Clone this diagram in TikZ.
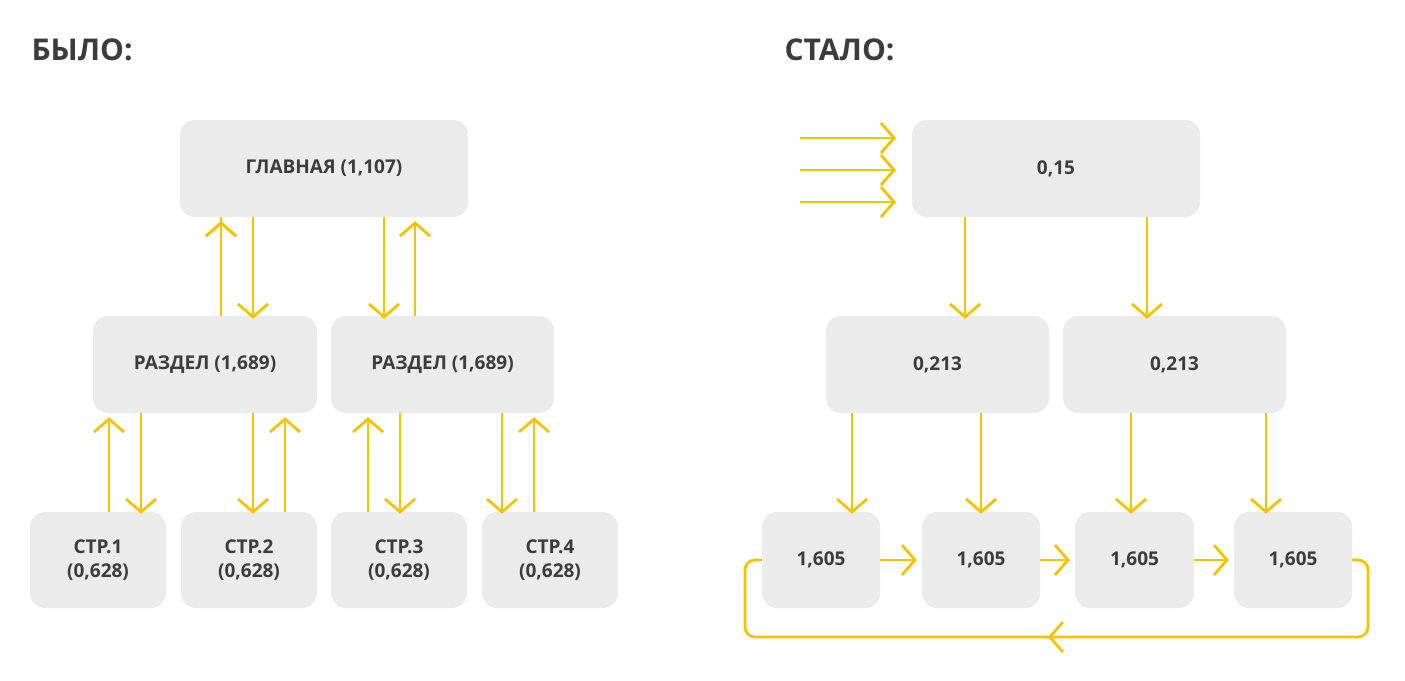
\documentclass[tikz,border=0pt]{standalone}
\usepackage{fontspec}
\setmainfont{Open Sans}
\usetikzlibrary{arrows.meta}
\definecolor{boxc}{HTML}{EBEBEB}
\definecolor{txtc}{HTML}{3C3C3C}
\definecolor{yel}{HTML}{F5C400}
\begin{document}
\begin{tikzpicture}[x=1pt,y=-1pt,
  bx/.style={fill=boxc,rounded corners=15pt,text=txtc,font=\fontsize{19}{24}\selectfont\bfseries,align=center,inner sep=0pt},
  arr/.style={draw=yel,line width=2.8pt,-{Straight Barb[length=13pt,width=30pt,line width=2.8pt]}},
  ln/.style={draw=yel,line width=2.8pt},
  ttl/.style={text=txtc,font=\fontsize{30}{36}\selectfont\bfseries,anchor=west}]
\useasboundingbox (0,0) rectangle (1405,680);
\node[ttl] (t1) at (28,50) {БЫЛО:};
\node[ttl] (t2) at (781,50) {СТАЛО:};
\newcommand\bxat[6]{\node[bx,minimum width=#4-#2,minimum height=#5-#3] (#1) at ({(#2+#4)/2},{(#3+#5)/2}) {#6};}
\bxat{g}{180}{120}{468}{217}{ГЛАВНАЯ (1,107)}
\bxat{r1}{93}{316}{317}{413}{РАЗДЕЛ (1,689)}
\bxat{r2}{331}{316}{554}{413}{РАЗДЕЛ (1,689)}
\bxat{s1}{30}{512}{166}{608}{СТР.1\\(0,628)}
\bxat{s2}{181}{512}{317}{608}{СТР.2\\(0,628)}
\bxat{s3}{331}{512}{467}{608}{СТР.3\\(0,628)}
\bxat{s4}{482}{512}{618}{608}{СТР.4\\(0,628)}
\bxat{h}{912}{120}{1200}{217}{0,15}
\bxat{m1}{826}{316}{1049}{413}{0,213}
\bxat{m2}{1063}{316}{1286}{413}{0,213}
\bxat{p1}{762}{512}{880}{608}{1,605}
\bxat{p2}{922}{512}{1040}{608}{1,605}
\bxat{p3}{1075}{512}{1194}{608}{1,605}
\bxat{p4}{1234}{512}{1352}{608}{1,605}
% left arrows
\draw[arr] (r1.north -| 221,0) -- (g.south -| 221,0) ++(0,4);
\draw[arr] (g.south -| 253,0) -- ([yshift=-3pt]r1.north -| 253,0);
\draw[arr] (g.south -| 384,0) -- ([yshift=-3pt]r2.north -| 384,0);
\draw[arr] (r2.north -| 415,0) -- ([yshift=-4pt]g.south -| 415,0);
\draw[arr] (r1.north -| 221,0) -- ([yshift=-4pt]g.south -| 221,0);
\draw[arr] (s1.north -| 109,0) -- ([yshift=-4pt]r1.south -| 109,0);
\draw[arr] (r1.south -| 141,0) -- ([yshift=-2pt]s1.north -| 141,0);
\draw[arr] (r1.south -| 253,0) -- ([yshift=-2pt]s2.north -| 253,0);
\draw[arr] (s2.north -| 285,0) -- ([yshift=-4pt]r1.south -| 285,0);
\draw[arr] (s3.north -| 368,0) -- ([yshift=-4pt]r2.south -| 368,0);
\draw[arr] (r2.south -| 400,0) -- ([yshift=-2pt]s3.north -| 400,0);
\draw[arr] (r2.south -| 502,0) -- ([yshift=-2pt]s4.north -| 502,0);
\draw[arr] (s4.north -| 534,0) -- ([yshift=-4pt]r2.south -| 534,0);
% right
\coordinate (i1) at (800,138); \coordinate (i2) at (800,170); \coordinate (i3) at (800,202);
\draw[arr] (i1) -- ([xshift=-16pt]h.west |- i1);
\draw[arr] (i2) -- ([xshift=-16pt]h.west |- i2);
\draw[arr] (i3) -- ([xshift=-16pt]h.west |- i3);
\draw[arr] (h.south -| 965,0) -- ([yshift=-3pt]m1.north -| 965,0);
\draw[arr] (h.south -| 1147,0) -- ([yshift=-3pt]m2.north -| 1147,0);
\draw[arr] (m1.south -| 852,0) -- ([yshift=-2pt]p1.north -| 852,0);
\draw[arr] (m1.south -| 981,0) -- ([yshift=-2pt]p2.north -| 981,0);
\draw[arr] (m2.south -| 1131,0) -- ([yshift=-2pt]p3.north -| 1131,0);
\draw[arr] (m2.south -| 1266,0) -- ([yshift=-2pt]p4.north -| 1266,0);
\draw[arr] (p1.east) -- ([xshift=-5pt]p2.west);
\draw[arr] (p2.east) -- ([xshift=-5pt]p3.west);
\draw[arr] (p3.east) -- ([xshift=-5pt]p4.west);
\coordinate (lp) at (1048,637);
\draw[ln,rounded corners=10pt] (p4.east) -- (1368,560) -- (1368,637) -- (745,637) -- (745,560) -- (p1.west);
\draw[arr] (1090,637) -- (lp);
\end{tikzpicture}
\end{document}
